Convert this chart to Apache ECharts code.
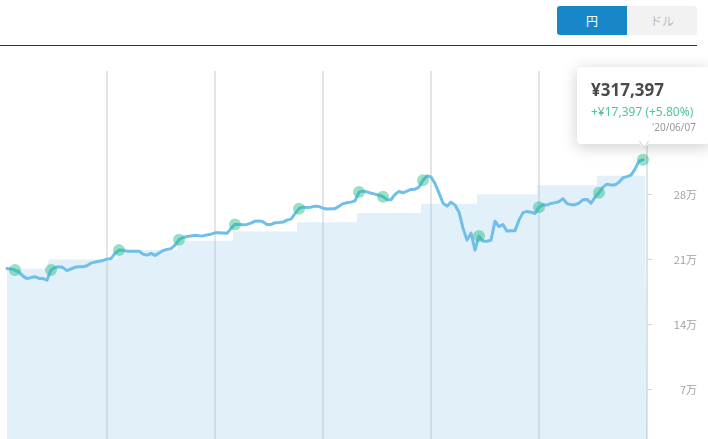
<!DOCTYPE html>
<html>
<head>
<meta charset="utf-8">
<script src="https://cdn.jsdelivr.net/npm/echarts@6/dist/echarts.min.js"></script>
<style>
  html, body { margin: 0; padding: 0; width: 708px; height: 439px; overflow: hidden; background: #fff;
    font-family: "Noto Sans", "Noto Sans CJK JP", sans-serif; }
  #chart { position: absolute; left: 0; top: 0; width: 708px; height: 439px; }
  #header { position: absolute; left: 0; top: 0; width: 708px; height: 46px; z-index: 5; }
  #rule { position: absolute; left: 0; top: 44.5px; width: 697px; height: 1.4px; background: #333; }
  .btn { position: absolute; top: 6px; height: 29px; width: 70px; line-height: 29px; text-align: center;
    font-size: 12px; font-family: "Noto Sans CJK JP", sans-serif; }
  #yen { left: 557px; background: #1787c7; color: #fff; border-radius: 3px 0 0 3px; }
  #usd { left: 627px; background: #f2f2f2; color: #bdbdbd; border-radius: 0 3px 3px 0; }
</style>
</head>
<body>
<div id="chart"></div>
<div id="header">
  <div class="btn" id="yen">円</div>
  <div class="btn" id="usd">ドル</div>
  <div id="rule"></div>
</div>
<script>
// ---- data ----
const startDate = new Date(2019, 6, 25);
const stepDays = 2;
const categoryCount = 161;

const assetValues = [
  200300,199600,198500,196300,192000,189300,190400,191300,189500,189300,
  187700,198500,201200,202000,201200,197900,199800,201500,202000,202100,
  203100,206000,207100,208000,208900,210300,210900,216500,220000,219900,
  218900,218800,218900,218700,215700,214600,216500,214300,216800,219500,
  220800,221600,225400,231300,233600,234600,235300,236000,235600,235300,
  236400,237200,238600,238700,238500,238100,243400,247700,247600,247300,
  247700,249100,251200,251500,250600,247500,247700,249500,249800,250200,
  252300,253400,259300,264700,266500,265800,266300,267400,266900,265200,
  264400,264600,264700,267200,270100,271000,271700,273100,282500,283600,
  282700,281400,280300,279200,277600,274400,274300,280000,283300,281800,
  283600,285400,285700,287900,295400,299900,298800,291800,281400,270600,
  267400,271700,268500,260900,243700,230800,238300,220000,235100,229700,
  229600,230800,251200,245300,247500,240500,240800,241000,252300,260400,
  261700,260900,259500,266300,269000,268500,270300,271200,272200,275500,
  270100,269000,268900,270600,274400,274600,270500,277100,281900,287900,
  291100,290200,290300,293200,298100,299200,300800,307200,315900,317397,
  null
];

const principal = [
  200000,200000,200000,200000,200000,200000,200000,200000,200000,200000,200000,
  210000,210000,210000,210000,210000,210000,210000,210000,210000,210000,210000,210000,210000,210000,210000,210000,210000,
  220000,220000,220000,220000,220000,220000,220000,220000,220000,220000,220000,220000,220000,220000,220000,
  230000,230000,230000,230000,230000,230000,230000,230000,230000,230000,230000,230000,230000,230000,
  240000,240000,240000,240000,240000,240000,240000,240000,240000,240000,240000,240000,240000,240000,240000,240000,
  250000,250000,250000,250000,250000,250000,250000,250000,250000,250000,250000,250000,250000,250000,250000,
  260000,260000,260000,260000,260000,260000,260000,260000,260000,260000,260000,260000,260000,260000,260000,260000,
  270000,270000,270000,270000,270000,270000,270000,270000,270000,270000,270000,270000,270000,270000,
  280000,280000,280000,280000,280000,280000,280000,280000,280000,280000,280000,280000,280000,280000,280000,
  290000,290000,290000,290000,290000,290000,290000,290000,290000,290000,290000,290000,290000,290000,290000,
  300000,300000,300000,300000,300000,300000,300000,300000,300000,300000,300000,300000,300000
];

const purchaseIndex = [2, 11, 28, 43, 57, 73, 88, 94, 104, 118, 133, 148, 159];
const gridlineIndex = [25, 52, 79, 106, 133, 160];
const yTicks = [70000, 140000, 210000, 280000, 350000];
const yMaxValue = 413000;

// ---- build ----
function fmtDate(d) {
  const yy = String(d.getFullYear()).slice(2);
  const mm = String(d.getMonth() + 1).padStart(2, '0');
  const dd = String(d.getDate()).padStart(2, '0');
  return yy + '/' + mm + '/' + dd;
}
const categories = [];
for (let i = 0; i < categoryCount; i++) {
  const d = new Date(startDate.getTime());
  d.setDate(d.getDate() + i * stepDays);
  categories.push(fmtDate(d));
}
const purchaseData = purchaseIndex.map(i => [i, assetValues[i]]);

const chart = echarts.init(document.getElementById('chart'), null, { renderer: 'canvas' });
const option = {
  animation: false,
  grid: { left: 7, width: 640, top: 71, height: 383.3, containLabel: false, outerBoundsMode: 'none' },
  tooltip: {
    trigger: 'item',
    triggerOn: 'none',
    alwaysShowContent: true,
    position: 'top',
    transitionDuration: 0,
    backgroundColor: '#fff',
    borderColor: '#ffffff',
    borderWidth: 1,
    padding: [11, 13, 9, 13],
    extraCssText: 'box-shadow: 0 3px 16px rgba(0,0,0,0.2); border-radius: 4px; overflow: visible;',
    formatter: function (p) {
      const idx = p.data[0];
      const v = assetValues[idx];
      const base = principal[idx];
      const gain = v - base;
      const pct = (gain / base * 100).toFixed(2);
      const sign = gain >= 0 ? '+' : '-';
      return '<div style="position:relative;width:105px;font-family:\'Noto Sans\',\'Noto Sans CJK JP\',sans-serif;">' +
        '<div style="font-size:17px;font-weight:bold;color:#4a4a4a;line-height:22px;">¥' + v.toLocaleString('en-US') + '</div>' +
        '<div style="font-size:12px;color:#52c49c;line-height:17px;margin-top:2px;white-space:nowrap;">' + sign + '¥' + Math.abs(gain).toLocaleString('en-US') + ' (' + sign + pct + '%)</div>' +
        '<div style="font-size:10px;color:#9a9a9a;line-height:14px;text-align:right;">\'' + categories[idx] + '</div>' +
        '<div style="position:absolute;left:48px;bottom:-15px;width:0;height:0;border-left:5px solid transparent;border-right:5px solid transparent;border-top:8px solid #cfcfcf;"></div>' +
        '<div style="position:absolute;left:49px;bottom:-13px;width:0;height:0;border-left:4px solid transparent;border-right:4px solid transparent;border-top:6.5px solid #fff;"></div>' +
        '</div>';
    }
  },
  xAxis: {
    type: 'category',
    data: categories,
    boundaryGap: false,
    axisLine: { show: false },
    axisTick: { show: false },
    axisLabel: { show: false },
    splitLine: {
      show: true,
      interval: function (index) { return gridlineIndex.indexOf(index) >= 0; },
      lineStyle: { color: '#e3e6e9', width: 2 }
    }
  },
  yAxis: {
    type: 'value',
    position: 'right',
    min: 0,
    max: yMaxValue,
    interval: 70000,
    axisLine: { show: true, lineStyle: { color: '#dde3e9', width: 2 } },
    axisTick: { show: true, length: 5, lineStyle: { color: '#d6d6d6' } },
    splitLine: { show: false },
    axisLabel: {
      show: true,
      align: 'right',
      margin: 50,
      color: '#a8a29c',
      fontSize: 11,
      fontFamily: 'Noto Sans CJK JP',
      showMaxLabel: false,
      formatter: function (v) { return yTicks.indexOf(v) >= 0 && v < 350000 ? (v / 10000) + '万' : ''; }
    }
  },
  series: [
    {
      name: '元本',
      type: 'line',
      data: principal,
      step: 'middle',
      showSymbol: false,
      lineStyle: { width: 0, opacity: 0 },
      areaStyle: { color: 'rgba(140,195,235,0.25)', opacity: 1 },
      silent: true,
      z: 1
    },
    {
      name: '評価額',
      type: 'line',
      data: assetValues,
      showSymbol: false,
      lineStyle: { color: '#6fbfea', width: 3, join: 'round', cap: 'round' },
      silent: true,
      z: 3
    },
    {
      name: '購入',
      type: 'scatter',
      data: purchaseData,
      symbol: 'circle',
      symbolSize: 12,
      itemStyle: { color: 'rgba(40,190,140,0.6)' },
      z: 4
    }
  ]
};
chart.setOption(option);
chart.dispatchAction({ type: 'showTip', seriesIndex: 2, dataIndex: purchaseIndex.length - 1 });
</script>
</body>
</html>
